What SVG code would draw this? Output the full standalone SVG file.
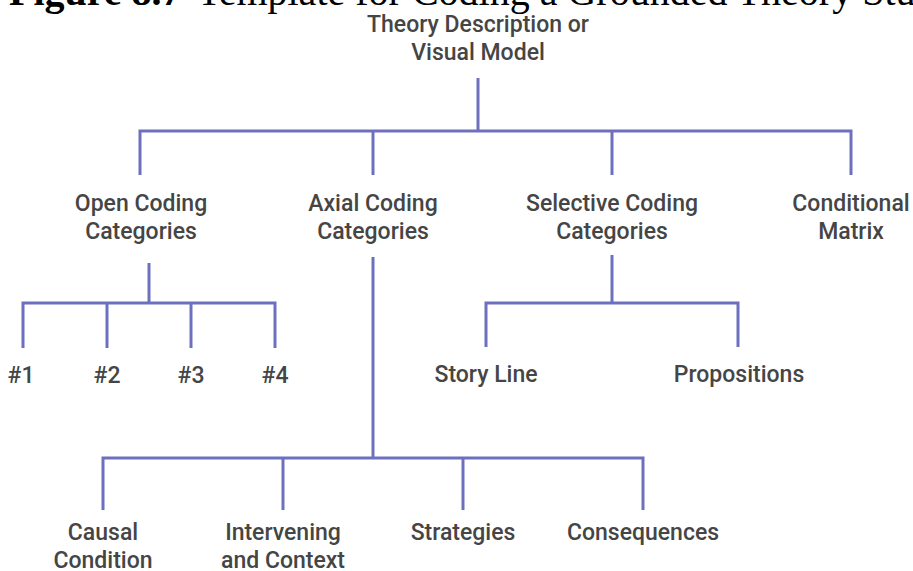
<svg xmlns="http://www.w3.org/2000/svg" width="913" height="571" viewBox="0 0 913 571">
  <style>
    .title { font-family: "Liberation Serif", "Times New Roman", serif; font-size: 40px; fill: #000; }
    .lbl { font-family: Roboto, "Liberation Sans", Arial, sans-serif; font-weight: 500; font-size: 23px; fill: #454545; text-anchor: middle; }
    .wire { stroke: #6d70bf; stroke-width: 3; fill: none; stroke-linecap: butt; }
  </style>
  <rect width="913" height="571" fill="#fff"/>

  <!-- caption, clipped by the top edge -->
  <text class="title" x="9" y="5"><tspan font-weight="bold">Figure 8.7</tspan><tspan x="197">Template for Coding a Grounded Theory Study</tspan></text>

  <!-- connectors -->
  <g id="connectors" class="wire">
    <!-- root to first level -->
    <path d="M478 78 V131"/>
    <path d="M140 175 V131 H851 V175"/>
    <path d="M373 131 V175"/>
    <path d="M612 131 V175"/>
    <!-- open coding branches -->
    <path d="M149 263 V303"/>
    <path d="M23 348 V303 H275 V348"/>
    <path d="M107 303 V348"/>
    <path d="M191 303 V348"/>
    <!-- selective coding branches -->
    <path d="M612 255 V303"/>
    <path d="M486 347 V303 H738 V347"/>
    <!-- axial coding branches -->
    <path d="M373 257 V458"/>
    <path d="M103 510 V458 H643 V510"/>
    <path d="M283 458 V510"/>
    <path d="M463 458 V510"/>
  </g>

  <g id="theory">
    <text class="lbl" x="478" y="32">Theory Description or</text>
    <text class="lbl" x="478" y="60">Visual Model</text>
  </g>

  <g id="open-coding">
    <text class="lbl" x="141" y="211">Open Coding</text>
    <text class="lbl" x="141" y="239">Categories</text>
  </g>
  <g id="axial-coding">
    <text class="lbl" x="373" y="211">Axial Coding</text>
    <text class="lbl" x="373" y="239">Categories</text>
  </g>
  <g id="selective-coding">
    <text class="lbl" x="612" y="211">Selective Coding</text>
    <text class="lbl" x="612" y="239">Categories</text>
  </g>
  <g id="conditional-matrix">
    <text class="lbl" x="851" y="211">Conditional</text>
    <text class="lbl" x="851" y="239">Matrix</text>
  </g>

  <g id="open-1"><text class="lbl" x="21" y="383">#1</text></g>
  <g id="open-2"><text class="lbl" x="107" y="383">#2</text></g>
  <g id="open-3"><text class="lbl" x="191" y="383">#3</text></g>
  <g id="open-4"><text class="lbl" x="275" y="383">#4</text></g>

  <g id="story-line"><text class="lbl" x="486" y="382">Story Line</text></g>
  <g id="propositions"><text class="lbl" x="739" y="382">Propositions</text></g>

  <g id="causal">
    <text class="lbl" x="103" y="540">Causal</text>
    <text class="lbl" x="103" y="568">Condition</text>
  </g>
  <g id="intervening">
    <text class="lbl" x="283" y="540">Intervening</text>
    <text class="lbl" x="283" y="568">and Context</text>
  </g>
  <g id="strategies"><text class="lbl" x="463" y="540">Strategies</text></g>
  <g id="consequences"><text class="lbl" x="643" y="540">Consequences</text></g>
</svg>
